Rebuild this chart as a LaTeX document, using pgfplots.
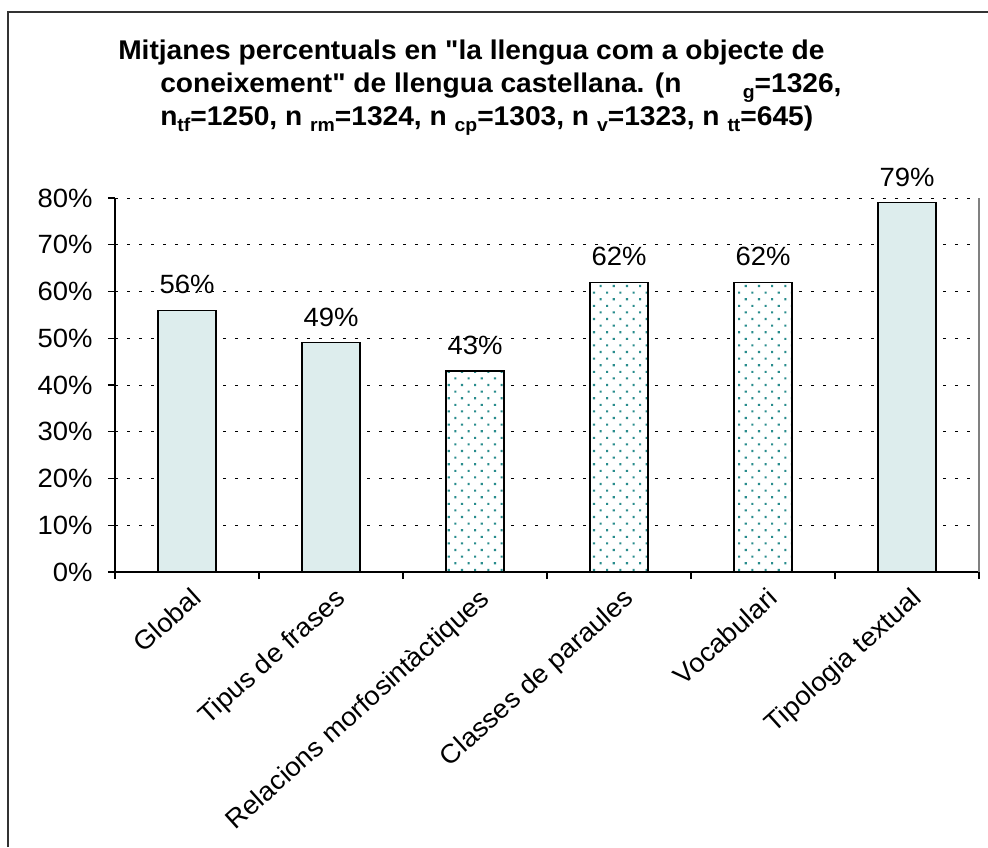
\documentclass[border=0pt]{standalone}
\usepackage{fontspec}
\setmainfont{Liberation Sans}[FakeStretch=1.04, Ligatures=TeXOff]
\usepackage{pgfplots}
\pgfplotsset{compat=1.18}
\usetikzlibrary{patterns.meta}

\definecolor{barfill}{RGB}{221,237,237}
\definecolor{dotcol}{RGB}{40,140,140}
\definecolor{framecol}{RGB}{50,50,50}

\newcommand\sub[1]{\raisebox{-0.4ex}{\fontsize{14}{16}\selectfont #1}}

\begin{document}
\begin{tikzpicture}[x=0.75pt,y=0.75pt]
\useasboundingbox (0,0) rectangle (988,847);
% frame (only left and top edges visible)
\draw[framecol, line width=1.2pt] (8,0) -- (8,835) -- (988,835);

% title
\node[anchor=base west, inner sep=0pt, font=\fontsize{20.3}{24}\selectfont\bfseries]
  at (118,787) {Mitjanes percentuals en "la llengua com a objecte de};
\node[anchor=base west, inner sep=0pt, font=\fontsize{20.3}{24}\selectfont\bfseries]
  at (160,754) {coneixement" de llengua castellana. (n\hspace{46pt}\sub{g}=1326,};
\node[anchor=base west, inner sep=0pt, font=\fontsize{20.3}{24}\selectfont\bfseries]
  at (160,721) {n\sub{tf}=1250, n \sub{rm}=1324, n \sub{cp}=1303, n \sub{v}=1323, n \sub{tt}=645)};

\begin{axis}[
    at={(86.25pt,206.25pt)}, anchor=south west,
    scale only axis,
    width=648pt, height=280.5pt,
    xmin=-0.5, xmax=5.5,
    ymin=0, ymax=80,
    axis lines=left,
    axis line style={-, black, line width=0.8pt},
    tick align=outside,
    major tick length=5.25pt,
    tick style={black, line width=0.8pt},
    ytick={0,10,...,80},
    yticklabel={\pgfmathprintnumber{\tick}\%},
    yticklabel style={xshift=-8pt},
    xtick={-0.5,0.5,...,5.5},
    xticklabels={},
    extra x ticks={0,1,2,3,4,5},
    extra x tick labels={Global,Tipus de frases,Relacions morfosintàctiques,Classes de paraules,Vocabulari,Tipologia textual},
    extra x tick style={major tick length=0pt,
        xticklabel style={rotate=42, anchor=north east, yshift=-6pt, xshift=-2pt}},
    ymajorgrids,
    major grid style={black, line width=0.6pt, dash pattern=on 2.2pt off 6.8pt},
    ybar, bar width=43.5pt, bar shift=0pt,
    /pgf/number format/assume math mode=true,
    tick label style={font=\fontsize{19.8}{23}\selectfont},
    nodes near coords={\pgfmathprintnumber{\pgfplotspointmeta}\%},
    every node near coord/.append style={font=\fontsize{19.8}{23}\selectfont, anchor=south, yshift=8.5pt},
    clip=false,
  ]
  \addplot[fill=barfill, draw=black, line width=0.8pt]
    coordinates {(0,56) (1,49) (5,79)};
  \addplot[fill=white, draw=black, line width=0.8pt,
    postaction={pattern={Dots[distance=7pt, angle=45, radius=1.1pt]}, pattern color=dotcol}]
    coordinates {(2,43) (3,62) (4,62)};
  \draw[gray, line width=0.8pt] (rel axis cs:1,0) -- (rel axis cs:1,1);
\end{axis}
\end{tikzpicture}
\end{document}
